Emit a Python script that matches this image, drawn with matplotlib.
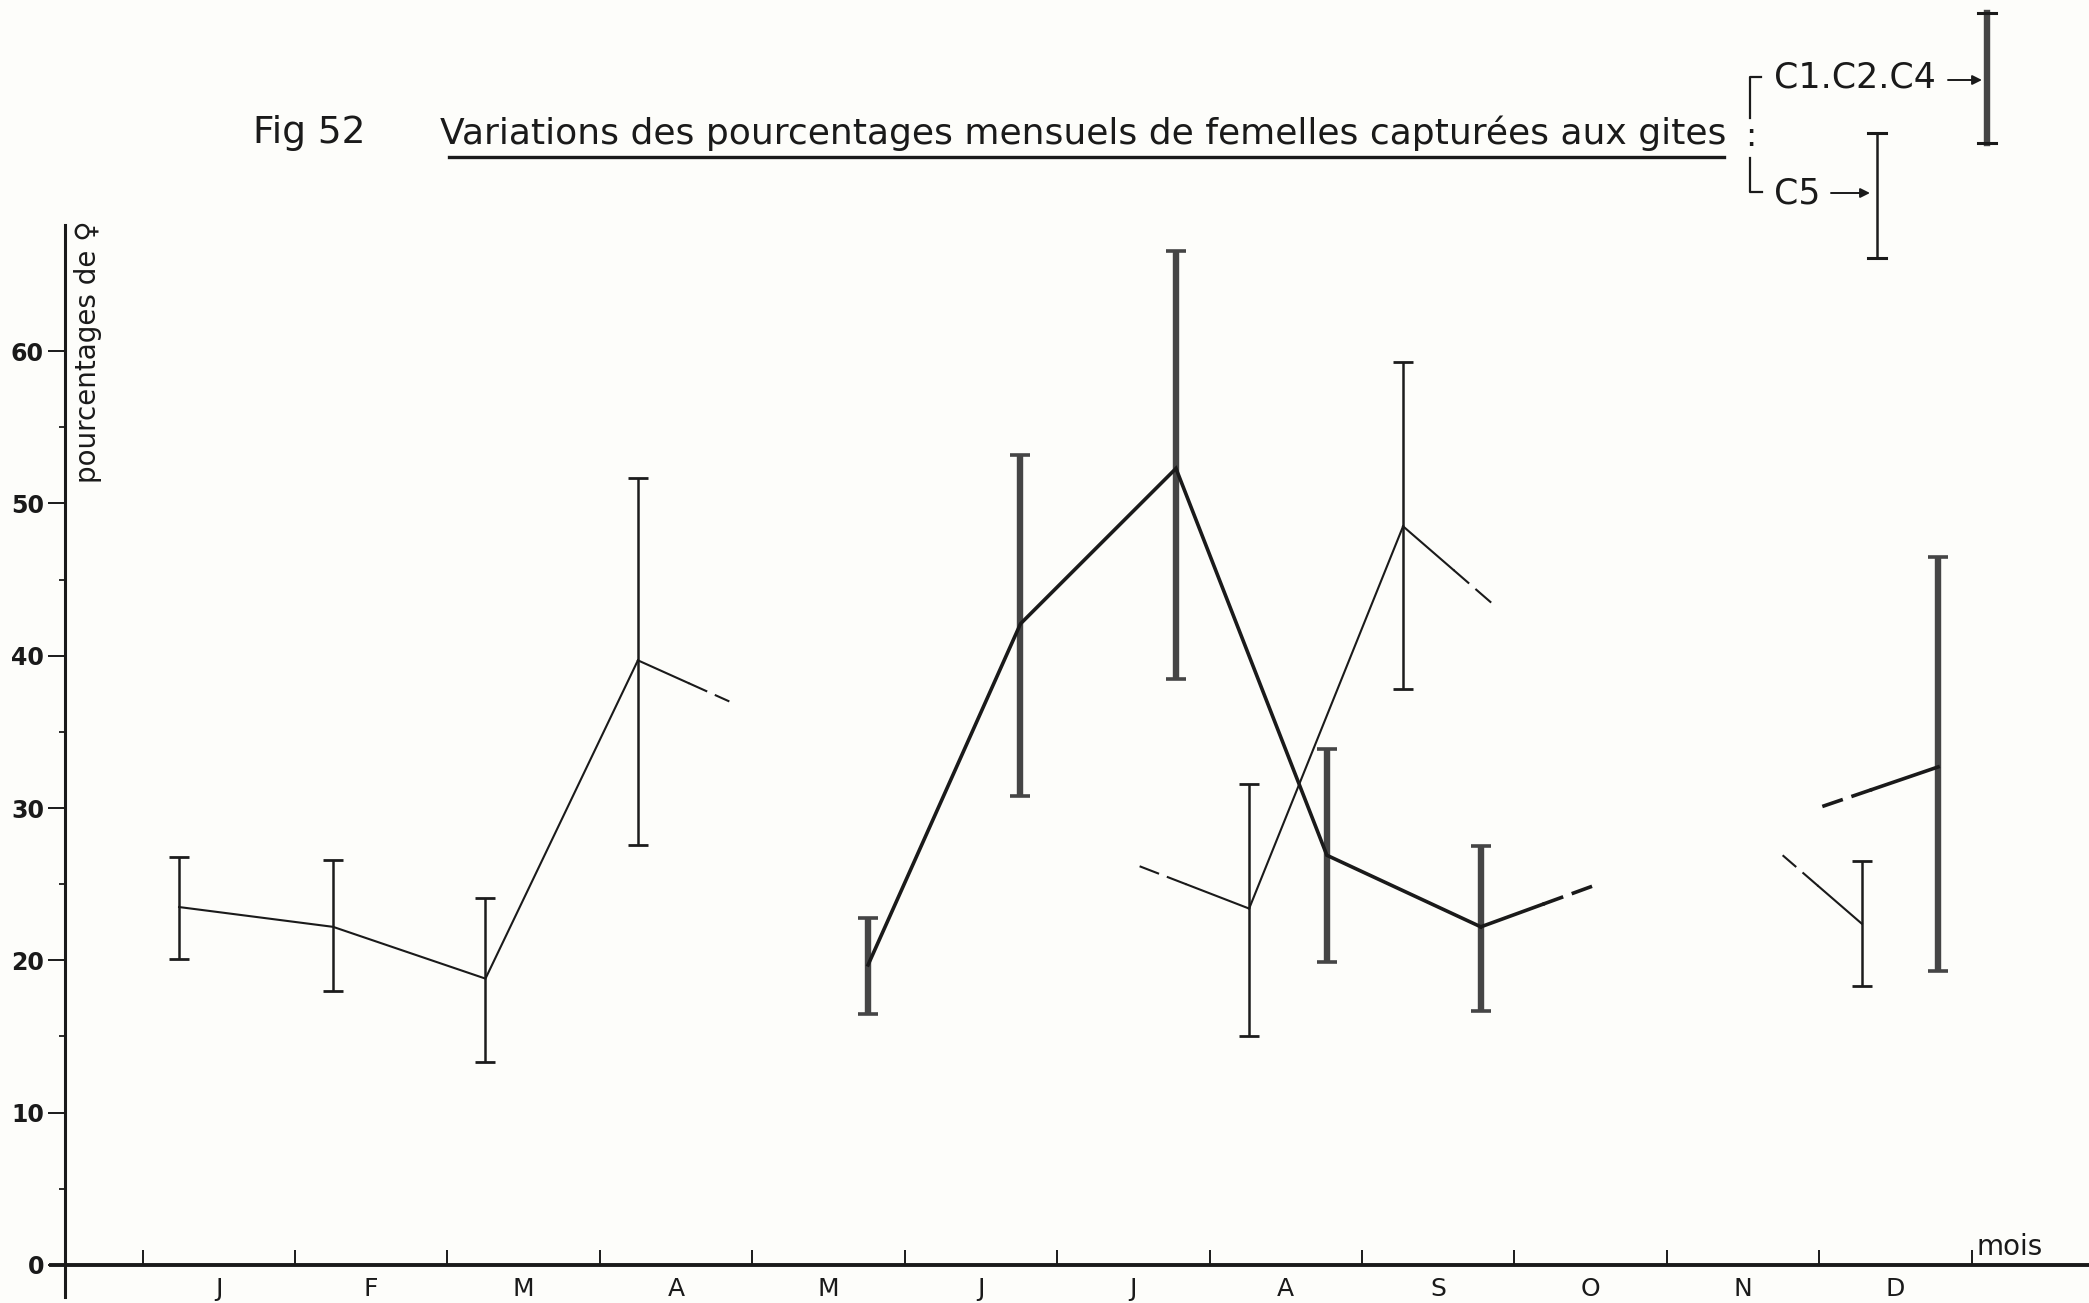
import matplotlib
matplotlib.use("Agg")
import matplotlib.pyplot as plt
from matplotlib.lines import Line2D
import numpy as np

plt.rcParams['font.family'] = ['DejaVu Sans']

W, H = 2089, 1303

months = ['J', 'F', 'M', 'A', 'M', 'J', 'J', 'A', 'S', 'O', 'N', 'D']

# C5 (thin bars) : position in months, % of females, low / high limits
c5_x = [0.24, 1.25, 2.25, 3.25, 7.26, 8.27, 11.28]
c5_y = [23.5, 22.2, 18.8, 39.7, 23.4, 48.5, 22.4]
c5_lo = [20.1, 18.0, 13.3, 27.6, 15.0, 37.8, 18.3]
c5_hi = [26.8, 26.6, 24.1, 51.7, 31.6, 59.3, 26.5]
c5_runs = [(0, 4), (4, 6), (6, 7)]
# loose line ends : (index of point, end x, end y)
c5_tails = [(3, 3.85, 37.0), (4, 6.51, 26.3), (5, 8.87, 43.3), (6, 10.76, 26.9)]

# C1.C2.C4 (thick bars)
c124_x = [4.76, 5.76, 6.78, 7.77, 8.78, 11.78]
c124_y = [19.7, 42.1, 52.3, 26.9, 22.2, 32.7]
c124_lo = [16.5, 30.8, 38.5, 19.9, 16.7, 19.3]
c124_hi = [22.8, 53.2, 66.6, 33.9, 27.5, 46.5]
c124_runs = [(0, 5), (5, 6)]
c124_tails = [(4, 9.52, 24.9), (5, 10.99, 30.0)]

thin_col = '#1c1c1c'
thick_col = '#454545'
ink = '#1a1a1a'


def fp(x, y):
    # pixel position -> figure fraction
    return x / W, 1 - y / H


fig = plt.figure(figsize=(W / 100, H / 100), dpi=100, facecolor='#fdfdfa')
ax = fig.add_axes([0, 0, 1, 1])
ax.set_facecolor('none')
ax.set_xlim(-0.935, 12.77)
ax.set_ylim(-2.5, 83.06)

for s in ['top', 'right']:
    ax.spines[s].set_visible(False)
ax.spines['left'].set_position(('data', -0.51))
ax.spines['left'].set_bounds(-2.1, 68.3)
ax.spines['left'].set_linewidth(2.2)
ax.spines['bottom'].set_position(('data', 0))
ax.spines['bottom'].set_bounds(-0.6, 12.77)
ax.spines['bottom'].set_linewidth(2.8)
for s in ['left', 'bottom']:
    ax.spines[s].set_color(ink)

ax.set_yticks(range(0, 61, 10))
ax.set_yticks(range(5, 60, 10), minor=True)
ax.tick_params(axis='y', which='major', direction='out', length=12, width=1.4,
               labelsize=17, pad=3, colors=ink)
ax.tick_params(axis='y', which='minor', direction='out', length=4, width=1.3, colors=ink)
plt.setp(ax.get_yticklabels(), fontweight='bold')

ax.set_xticks(range(13), [''] * 13)
ax.set_xticks(np.arange(12) + 0.5, months, minor=True)
ax.tick_params(axis='x', which='major', direction='in', length=11, width=1.4, colors=ink)
ax.tick_params(axis='x', which='minor', length=0, pad=9, labelsize=18, colors=ink)

ax.text(-0.357, 68.6, 'pourcentages de ♀', rotation=90, ha='center', va='top',
        fontsize=20, color=ink)
ax.text(12.03, 0.25, 'mois', ha='left', va='bottom', fontsize=20, color=ink)


def draw_series(xs, ys, lo, hi, runs, tails, lw, elw, ecol, capthick, dash):
    xs, ys = np.array(xs), np.array(ys)
    err = [ys - np.array(lo), np.array(hi) - ys]
    ax.errorbar(xs, ys, yerr=err, fmt='none', ecolor=ecol, elinewidth=elw,
                capsize=7, capthick=capthick, zorder=3)
    for a, b in runs:
        ax.plot(xs[a:b], ys[a:b], color=ink, lw=lw, solid_joinstyle='miter', zorder=4)
    for i, xe, ye in tails:
        x0, y0 = xs[i], ys[i]
        xm, ym = x0 + 0.55 * (xe - x0), y0 + 0.55 * (ye - y0)
        ax.plot([x0, xm], [y0, ym], color=ink, lw=lw, zorder=4)
        ax.plot([xm, xe], [ym, ye], color=ink, lw=lw, dashes=dash, zorder=4)


draw_series(c5_x, c5_y, c5_lo, c5_hi, c5_runs, c5_tails, 1.5, 1.8, thin_col, 2.0, (10, 4))
draw_series(c124_x, c124_y, c124_lo, c124_hi, c124_runs, c124_tails, 2.6, 4.6, thick_col, 2.6,
            (6, 2.5))

# title
fig.text(*fp(253, 133), 'Fig 52', ha='left', va='center', fontsize=27, color=ink)
fig.text(*fp(440, 133), 'Variations des pourcentages mensuels de femelles capturées aux gites',
         ha='left', va='center', fontsize=26, color=ink)
ux, uy = zip(fp(449, 157), fp(1724, 157))
fig.add_artist(Line2D(ux, uy, color=ink, lw=2.4))

# key
bx, by = zip(fp(1761, 77), fp(1750, 77), fp(1750, 118))
fig.add_artist(Line2D(bx, by, color=ink, lw=1.6))
bx, by = zip(fp(1750, 158), fp(1750, 192), fp(1762, 192))
fig.add_artist(Line2D(bx, by, color=ink, lw=1.6))
fig.text(*fp(1751, 136), ':', ha='center', va='center', fontsize=24, color=ink)
fig.text(*fp(1774, 78), 'C1.C2.C4', ha='left', va='center', fontsize=25, color=ink)
fig.text(*fp(1774, 193), 'C5', ha='left', va='center', fontsize=25, color=ink)
for x0, x1, y in [(1948, 1982, 80), (1831, 1870, 193)]:
    ax.annotate('', xy=fp(x1, y), xytext=fp(x0, y), xycoords='figure fraction',
                textcoords='figure fraction',
                arrowprops=dict(arrowstyle='-|>', color=ink, lw=1.4, mutation_scale=14,
                                shrinkA=0, shrinkB=0))


def key_bar(x, y0, y1, lw, col):
    xs, ys = zip(fp(x, y0), fp(x, y1))
    fig.add_artist(Line2D(xs, ys, color=col, lw=lw))
    for y in (y0, y1):
        cx, cy = zip(fp(x - 9, y), fp(x + 9, y))
        fig.add_artist(Line2D(cx, cy, color=ink, lw=2.2))


key_bar(1987, 13, 143, 4.6, thick_col)
key_bar(1877, 133, 258, 1.8, thin_col)

fig.savefig('out.png', dpi=100, facecolor=fig.get_facecolor())
